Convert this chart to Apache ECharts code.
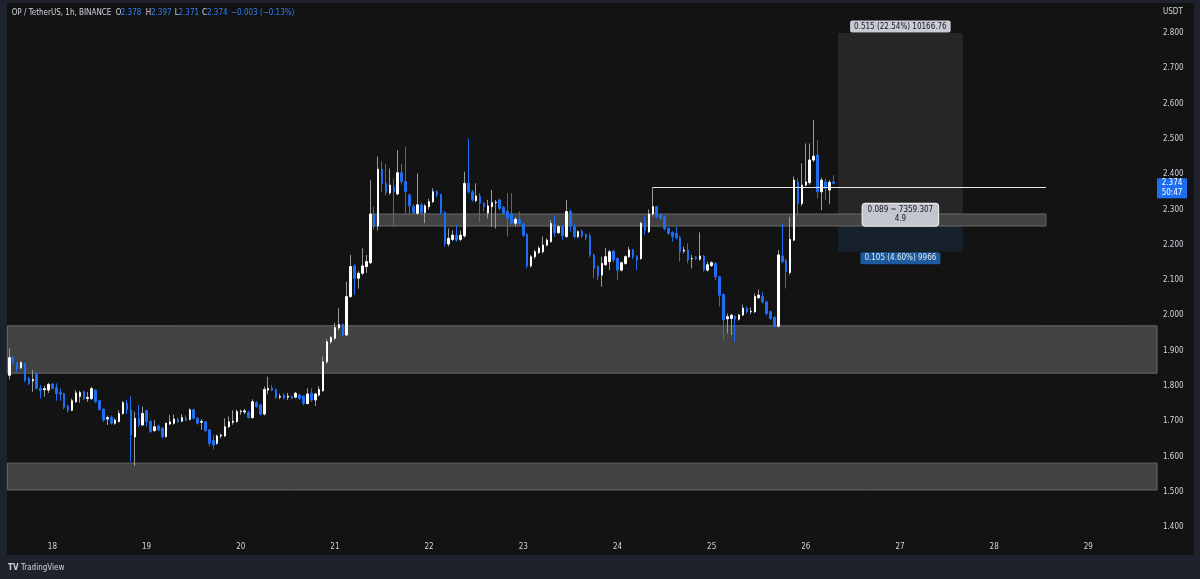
<!DOCTYPE html>
<html>
<head>
<meta charset="utf-8">
<title>OP / TetherUS, 1h, BINANCE</title>
<script src="https://cdn.jsdelivr.net/npm/echarts@6/dist/echarts.min.js"></script>
<style>
  html, body { margin: 0; padding: 0; background: #1e222d; }
  #chart { width: 1200px; height: 579px; }
</style>
</head>
<body>
<div id="chart"></div>
<script>
// hourly candles, first one is the 17th 13:00
var startDay = 17, startHour = 13;
var slotCount = 293; // candles + empty space up to the price scale

var opens = [
  1.830,1.880,1.866,1.851,1.863,1.821,1.814,1.835,1.793,1.789,
  1.788,1.805,1.795,1.781,1.778,1.743,1.731,1.755,1.770,1.783,
  1.764,1.764,1.788,1.758,1.734,1.706,1.711,1.694,1.699,1.722,
  1.751,1.732,1.655,1.708,1.689,1.730,1.699,1.673,1.686,1.680,
  1.656,1.692,1.694,1.705,1.700,1.708,1.705,1.732,1.708,1.697,
  1.698,1.675,1.645,1.637,1.658,1.658,1.684,1.697,1.699,1.727,
  1.726,1.724,1.710,1.752,1.746,1.720,1.788,1.793,1.790,1.768,
  1.774,1.768,1.769,1.768,1.774,1.771,1.750,1.779,1.760,1.774,
  1.786,1.868,1.925,1.935,1.964,1.974,1.944,2.053,2.140,2.105,
  2.119,2.138,2.149,2.287,2.253,2.414,2.374,2.347,2.364,2.344,
  2.404,2.379,2.341,2.308,2.289,2.313,2.291,2.308,2.322,2.350,
  2.341,2.291,2.202,2.215,2.227,2.215,2.225,2.374,2.350,2.325,
  2.338,2.317,2.290,2.308,2.319,2.327,2.306,2.294,2.287,2.261,
  2.272,2.259,2.230,2.140,2.166,2.178,2.180,2.199,2.209,2.259,
  2.234,2.251,2.223,2.294,2.250,2.223,2.239,2.228,2.225,2.171,
  2.138,2.114,2.143,2.152,2.182,2.161,2.128,2.147,2.166,2.185,
  2.166,2.161,2.261,2.237,2.287,2.308,2.284,2.280,2.246,2.235,
  2.232,2.221,2.182,2.185,2.160,2.165,2.159,2.168,2.128,2.141,
  2.147,2.109,2.059,1.990,1.991,1.998,1.989,2.001,2.020,2.010,
  2.010,2.050,2.054,2.038,2.010,1.994,1.969,2.168,2.155,2.121,
  2.213,2.378,2.317,2.369,2.376,2.440,2.454,2.350,2.378,2.355,
  2.378
];
var closes = [
  1.880,1.866,1.849,1.866,1.816,1.807,1.818,1.793,1.786,1.792,
  1.804,1.793,1.778,1.776,1.739,1.731,1.758,1.780,1.781,1.764,
  1.767,1.792,1.755,1.733,1.703,1.710,1.694,1.703,1.722,1.752,
  1.732,1.660,1.708,1.689,1.722,1.699,1.670,1.684,1.675,1.656,
  1.694,1.698,1.706,1.698,1.710,1.704,1.732,1.708,1.694,1.699,
  1.673,1.637,1.632,1.658,1.660,1.684,1.698,1.700,1.727,1.728,
  1.729,1.710,1.755,1.741,1.720,1.790,1.793,1.788,1.768,1.770,
  1.765,1.771,1.765,1.779,1.764,1.750,1.777,1.760,1.777,1.790,
  1.868,1.925,1.937,1.965,1.974,1.944,2.053,2.138,2.105,2.119,
  2.140,2.152,2.287,2.251,2.414,2.374,2.348,2.369,2.350,2.404,
  2.379,2.350,2.310,2.291,2.313,2.291,2.310,2.322,2.350,2.341,
  2.291,2.204,2.218,2.227,2.213,2.227,2.374,2.350,2.327,2.338,
  2.317,2.308,2.310,2.319,2.320,2.303,2.289,2.275,2.261,2.272,
  2.259,2.227,2.140,2.166,2.180,2.190,2.199,2.213,2.260,2.234,
  2.251,2.225,2.294,2.256,2.223,2.237,2.225,2.221,2.171,2.133,
  2.111,2.147,2.166,2.180,2.157,2.128,2.149,2.166,2.185,2.166,
  2.157,2.261,2.242,2.287,2.308,2.280,2.275,2.246,2.232,2.223,
  2.220,2.180,2.185,2.157,2.161,2.161,2.168,2.128,2.143,2.149,
  2.109,2.057,1.987,1.996,2.000,1.989,2.001,2.020,2.010,2.011,
  2.053,2.057,2.038,2.005,1.991,1.969,2.171,2.152,2.124,2.215,
  2.383,2.317,2.369,2.378,2.440,2.451,2.350,2.383,2.360,2.377,
  2.374
];
var lows = [
  1.818,1.862,1.838,1.848,1.811,1.802,1.783,1.790,1.764,1.769,
  1.780,1.790,1.758,1.758,1.734,1.724,1.728,1.752,1.752,1.760,
  1.755,1.760,1.752,1.730,1.698,1.689,1.690,1.690,1.696,1.718,
  1.720,1.585,1.573,1.684,1.687,1.684,1.667,1.670,1.672,1.651,
  1.653,1.689,1.690,1.695,1.697,1.700,1.702,1.705,1.690,1.675,
  1.670,1.628,1.620,1.633,1.651,1.655,1.680,1.690,1.696,1.718,
  1.720,1.707,1.707,1.738,1.716,1.716,1.776,1.785,1.763,1.762,
  1.762,1.760,1.762,1.765,1.760,1.745,1.747,1.755,1.743,1.770,
  1.783,1.862,1.918,1.930,1.958,1.941,1.940,2.050,2.058,2.076,
  2.115,2.120,2.145,2.242,2.240,2.350,2.340,2.341,2.251,2.340,
  2.370,2.284,2.284,2.285,2.285,2.284,2.261,2.300,2.318,2.335,
  2.285,2.195,2.195,2.210,2.208,2.210,2.220,2.345,2.322,2.320,
  2.265,2.294,2.275,2.251,2.246,2.298,2.285,2.223,2.258,2.251,
  2.255,2.222,2.133,2.135,2.160,2.174,2.175,2.195,2.205,2.223,
  2.230,2.213,2.220,2.237,2.218,2.218,2.220,2.213,2.165,2.105,
  2.100,2.081,2.140,2.128,2.150,2.100,2.124,2.143,2.162,2.160,
  2.128,2.157,2.228,2.233,2.280,2.275,2.270,2.240,2.228,2.209,
  2.215,2.152,2.176,2.147,2.133,2.157,2.155,2.124,2.124,2.137,
  2.100,2.025,1.930,1.949,1.944,1.925,1.985,1.997,2.005,2.003,
  2.006,2.046,2.034,2.000,1.987,1.966,1.966,2.148,2.076,2.115,
  2.210,2.284,2.310,2.365,2.370,2.435,2.331,2.298,2.327,2.315,
  2.371
];
var highs = [
  1.906,1.884,1.868,1.870,1.866,1.826,1.845,1.838,1.802,1.800,
  1.809,1.808,1.807,1.793,1.780,1.745,1.764,1.788,1.786,1.786,
  1.783,1.797,1.790,1.760,1.736,1.716,1.716,1.708,1.731,1.757,
  1.760,1.771,1.727,1.746,1.741,1.732,1.702,1.703,1.690,1.683,
  1.696,1.717,1.719,1.710,1.720,1.716,1.736,1.735,1.712,1.706,
  1.700,1.677,1.660,1.662,1.665,1.708,1.713,1.731,1.733,1.733,
  1.735,1.730,1.762,1.757,1.748,1.798,1.826,1.802,1.792,1.778,
  1.778,1.780,1.773,1.783,1.778,1.773,1.793,1.793,1.780,1.799,
  1.883,1.932,1.942,1.979,2.020,1.977,2.095,2.171,2.145,2.125,
  2.190,2.171,2.383,2.308,2.450,2.436,2.430,2.416,2.388,2.468,
  2.430,2.478,2.345,2.315,2.402,2.318,2.315,2.330,2.360,2.355,
  2.345,2.295,2.246,2.241,2.256,2.240,2.407,2.501,2.355,2.374,
  2.346,2.320,2.327,2.355,2.327,2.330,2.310,2.346,2.346,2.278,
  2.294,2.262,2.232,2.171,2.185,2.196,2.223,2.218,2.270,2.284,
  2.256,2.255,2.327,2.300,2.261,2.241,2.243,2.232,2.232,2.175,
  2.142,2.166,2.190,2.185,2.185,2.165,2.152,2.170,2.194,2.188,
  2.170,2.265,2.280,2.300,2.363,2.310,2.289,2.284,2.250,2.238,
  2.251,2.225,2.195,2.204,2.171,2.168,2.235,2.171,2.152,2.153,
  2.150,2.112,2.062,2.005,2.004,2.000,2.004,2.030,2.024,2.022,
  2.062,2.073,2.066,2.041,2.013,1.997,2.185,2.260,2.160,2.279,
  2.393,2.388,2.431,2.487,2.487,2.553,2.496,2.390,2.388,2.383,
  2.397
];

// drawings, x in hour slots from the left edge, y in price
var zones = [
  { from: 0, to: 293, top: 1.970, bottom: 1.836 },
  { from: 0, to: 293, top: 1.581, bottom: 1.505 },
  { from: 92.4, to: 264.7, top: 2.287, bottom: 2.253 }
];
var rayLine = { from: 164.5, to: 264.7, price: 2.363 };
var position = { from: 211.7, to: 243.5, entry: 2.285, target: 2.800, stop: 2.180 };
var timerText = '50:47';

var FONT = "'DejaVu Sans Condensed', 'Liberation Sans', sans-serif";
var FS = 8;
var UP = '#ffffff', DOWN = '#1f6ef2', WICK_UP = '#9a9a9a', TEXT = '#d1d4dc', BLUE_TXT = '#2f7ff2';

// categories
var slots = [], slotHour = [], slotDay = [];
for (var k = 0; k < slotCount; k++) {
  var h = startHour + k;
  slotHour.push(h % 24);
  slotDay.push(startDay + Math.floor(h / 24));
  slots.push(slotDay[k] + ' ' + (h % 24) + ':00');
}

var wickData = [], bodyData = [];
for (var i = 0; i < opens.length; i++) {
  wickData.push([opens[i], closes[i], lows[i], highs[i]]);
  bodyData.push([opens[i], closes[i], Math.min(opens[i], closes[i]), Math.max(opens[i], closes[i])]);
}

var last = opens.length - 1;
var chg = closes[last] - closes[last - 1];
var chgPct = chg / closes[last - 1] * 100;
function signed(v, d) { return (v < 0 ? '\u2212' : '+') + Math.abs(v).toFixed(d); }

var upMove = position.target - position.entry;
var downMove = position.entry - position.stop;

var chartDom = document.getElementById('chart');
var myChart = echarts.init(chartDom);

function hdr(id, x, text, color) {
  return { type: 'text', id: id, silent: true, z: 10,
    style: { x: x, y: 13, text: text, fill: color, font: FS + 'px ' + FONT, verticalAlign: 'middle' } };
}

var option = {
  backgroundColor: '#1e222d',
  animation: false,
  grid: { left: 7.3, right: 43, top: 33, bottom: 52 },
  xAxis: [
    {
      type: 'category',
      data: slots,
      boundaryGap: true,
      axisLine: { show: false },
      axisTick: { show: false },
      splitLine: { show: false },
      axisLabel: {
        interval: function (idx) { return slotHour[idx] === 0; },
        formatter: function (val, idx) { return String(slotDay[idx]); },
        color: TEXT,
        fontSize: FS,
        fontFamily: FONT,
        margin: 16
      }
    },
    { type: 'value', min: 0, max: slotCount, show: false }
  ],
  yAxis: {
    type: 'value',
    position: 'right',
    min: 1.4,
    max: 2.8,
    interval: 0.1,
    axisLine: { show: false },
    axisTick: { show: false },
    splitLine: { show: false },
    axisLabel: {
      color: TEXT,
      fontSize: FS,
      fontFamily: FONT,
      margin: 6,
      formatter: function (v) { return v.toFixed(3); }
    }
  },
  graphic: [
    { type: 'rect', id: 'panel', silent: true, z: -100,
      shape: { x: 7, y: 3, width: 1187, height: 552 }, style: { fill: '#131313' } },
    hdr('h0', 11.7, 'OP / TetherUS, 1h, BINANCE', TEXT),
    hdr('h1', 115.7, 'O', TEXT), hdr('h2', 120.7, opens[last].toFixed(3), BLUE_TXT),
    hdr('h3', 145.7, 'H', TEXT), hdr('h4', 151, highs[last].toFixed(3), BLUE_TXT),
    hdr('h5', 174.7, 'L', TEXT), hdr('h6', 178.5, lows[last].toFixed(3), BLUE_TXT),
    hdr('h7', 202, 'C', TEXT), hdr('h8', 207, closes[last].toFixed(3), BLUE_TXT),
    hdr('h9', 231, signed(chg, 3) + ' (' + signed(chgPct, 2) + '%)', BLUE_TXT),
    { type: 'text', id: 'unit', silent: true,
      style: { x: 1163, y: 12, text: 'USDT', fill: TEXT, font: FS + 'px ' + FONT, verticalAlign: 'middle' } },
    { type: 'text', id: 'logo1', silent: true,
      style: { x: 8, y: 568, text: 'TV', fill: TEXT, font: 'bold ' + FS + 'px ' + FONT, verticalAlign: 'middle' } },
    { type: 'text', id: 'logo2', silent: true,
      style: { x: 21, y: 568, text: 'TradingView', fill: TEXT, font: FS + 'px ' + FONT, verticalAlign: 'middle' } }
  ],
  series: [
    {
      name: 'position',
      type: 'line',
      xAxisIndex: 1,
      data: [],
      z: 0,
      silent: true,
      markArea: {
        silent: true,
        data: [
          [{ coord: [position.from, position.target], itemStyle: { color: '#262626' } },
           { coord: [position.to, position.entry] }],
          [{ coord: [position.from, position.entry], itemStyle: { color: '#17212b' } },
           { coord: [position.to, position.stop] }]
        ]
      }
    },
    {
      name: 'zones',
      type: 'line',
      xAxisIndex: 1,
      data: [],
      z: 1,
      silent: true,
      markArea: {
        silent: true,
        data: zones.map(function (zn) {
          return [
            { coord: [zn.from, zn.top], itemStyle: { color: '#424242', borderColor: '#6a6a6a', borderWidth: 1 } },
            { coord: [zn.to, zn.bottom] }
          ];
        })
      },
      markLine: {
        silent: true,
        symbol: ['none', 'none'],
        label: { show: false },
        lineStyle: { color: '#e6e6e6', width: 1, type: 'solid' },
        data: [[{ coord: [rayLine.from, rayLine.price] }, { coord: [rayLine.to, rayLine.price] }]]
      }
    },
    {
      name: 'wicks',
      type: 'candlestick',
      data: wickData,
      barWidth: 1,
      z: 2,
      itemStyle: { color: WICK_UP, color0: DOWN, borderColor: WICK_UP, borderColor0: DOWN, borderWidth: 1 }
    },
    {
      name: 'OP/USDT',
      type: 'candlestick',
      data: bodyData,
      barWidth: 2,
      z: 3,
      itemStyle: { color: UP, color0: DOWN, borderColor: UP, borderColor0: DOWN, borderWidth: 1 }
    },
    {
      name: 'labels',
      type: 'line',
      xAxisIndex: 1,
      data: [],
      z: 5,
      silent: true,
      markPoint: {
        silent: true,
        symbol: 'rect',
        symbolSize: 1,
        itemStyle: { color: 'rgba(0,0,0,0)' },
        data: [
          { coord: [(position.from + position.to) / 2, position.target],
            label: { show: true, position: 'top', distance: 0,
              formatter: upMove.toFixed(3) + ' (' + (upMove / position.entry * 100).toFixed(2) + '%) 10166.76',
              backgroundColor: '#c9ccd3', color: '#131722', padding: [2, 4, 2, 4], borderRadius: 2,
              fontSize: FS, fontFamily: FONT } },
          { coord: [(position.from + position.to) / 2, position.entry],
            label: { show: true, position: 'inside',
              formatter: '0.089 ~ 7359.307\n' + (upMove / downMove).toFixed(1),
              backgroundColor: '#c3c6cd', color: '#131722', padding: [2, 5, 2, 5], borderRadius: 3,
              borderColor: '#f0f0f0', borderWidth: 1, lineHeight: 9,
              fontSize: FS, fontFamily: FONT, align: 'center' } },
          { coord: [(position.from + position.to) / 2, position.stop],
            label: { show: true, position: 'bottom', distance: 0,
              formatter: downMove.toFixed(3) + ' (' + (downMove / position.entry * 100).toFixed(2) + '%) 9966',
              backgroundColor: '#1d5a9e', color: '#e3e6ec', padding: [2, 4, 2, 4], borderRadius: 2,
              fontSize: FS, fontFamily: FONT } }
        ]
      }
    }
  ]
};

myChart.setOption(option);

// current price tag on the price scale
var py = myChart.convertToPixel({ yAxisIndex: 0 }, closes[last]);
myChart.setOption({
  graphic: [
    { type: 'rect', id: 'tagBox', silent: true, z: 10,
      shape: { x: 1157, y: py - 5, width: 30, height: 20 }, style: { fill: '#1f6ef2' } },
    { type: 'text', id: 'tagPrice', silent: true, z: 11,
      style: { x: 1172, y: py, text: closes[last].toFixed(3), fill: '#ffffff', font: FS + 'px ' + FONT,
        align: 'center', verticalAlign: 'middle' } },
    { type: 'text', id: 'tagTimer', silent: true, z: 11,
      style: { x: 1172, y: py + 9.5, text: timerText, fill: '#ffffff', font: FS + 'px ' + FONT,
        align: 'center', verticalAlign: 'middle' } }
  ]
});
</script>
</body>
</html>
